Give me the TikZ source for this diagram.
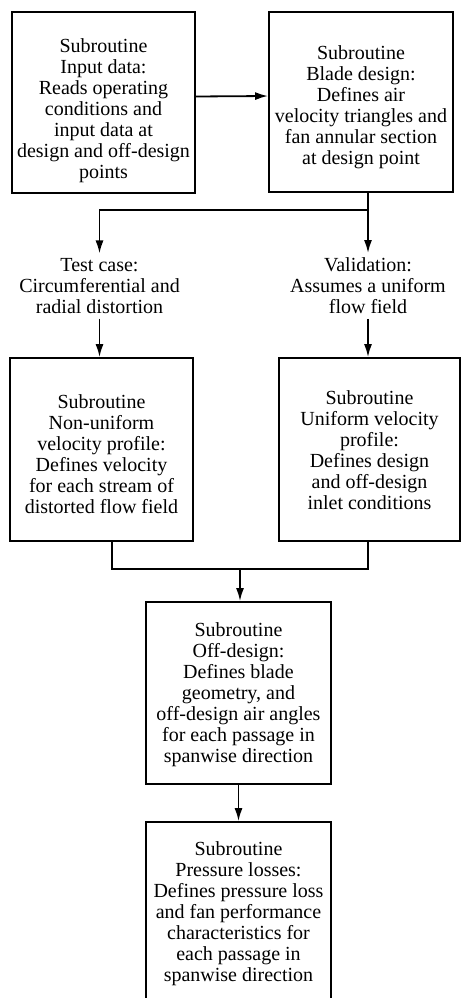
\documentclass[tikz,border=0pt]{standalone}
\usepackage{fontspec}
\setmainfont{Liberation Serif}
\usetikzlibrary{arrows.meta}
\newcommand{\toppad}[1]{\rule{0pt}{#1}}
\begin{document}
\begin{tikzpicture}[x=1pt,y=-1pt,line width=1.8pt,
            font=\fontsize{20}{21}\selectfont,
            subbox/.style={draw,rectangle,align=center,inner sep=0pt},
            casenote/.style={align=center,inner sep=4pt},
            flow/.style={-{Latex[length=13pt,width=8pt]}}]
            \useasboundingbox (0,0) rectangle (461,998);

            \node [subbox,minimum width=183pt,minimum height=181pt] (input) at (103.5,102.5)
                {\toppad{31pt}Subroutine\\Input data:\\Reads operating\\conditions and\\input data at\\design and off-design\\points};
            \node [subbox,minimum width=184pt,minimum height=180pt] (blade) at (361,102)
                {\toppad{24pt}Subroutine\\Blade design:\\Defines air\\velocity triangles and\\fan annular section\\at design point};

            \node [casenote] (left0) at (99.5,286)
                {Test case:\\Circumferential and\\radial distortion};
            \node [casenote] (right0) at (368,286)
                {Validation:\\Assumes a uniform\\flow field};

            \node [subbox,minimum width=183pt,minimum height=183pt] (left1) at (101.5,449.5)
                {\toppad{24pt}Subroutine\\Non-uniform\\velocity profile:\\Defines velocity\\for each stream of\\distorted flow field};
            \node [subbox,minimum width=181pt,minimum height=183pt] (right1) at (369.5,449.5)
                {\toppad{16pt}Subroutine\\Uniform velocity\\profile:\\Defines design\\and off-design\\inlet conditions};

            \node [subbox,minimum width=185pt,minimum height=182pt] (offdesign) at (238.5,693)
                {\toppad{18pt}Subroutine\\Off-design:\\Defines blade\\geometry, and\\off-design air angles\\for each passage in\\spanwise direction};
            \node [subbox,minimum width=185pt,minimum height=182pt] (losses) at (238.5,913)
                {\toppad{15pt}Subroutine\\Pressure losses:\\Defines pressure loss\\and fan performance\\characteristics for\\each passage in\\spanwise direction};

            \coordinate (split) at ([xshift=7pt,yshift=-17pt]blade.south);
            \coordinate (merge) at (240,569);

            \draw [flow] ([yshift=6pt]input.east) -- ([yshift=6pt]blade.west);
            \draw ([xshift=7pt]blade.south) -- (split);
            \draw [flow] (split) -| (left0.north);
            \draw [flow] (split) -- (right0.north);
            \draw [flow] (left0.south) -- (left0.south |- left1.north);
            \draw [flow] (right0.south) -- (right0.south |- right1.north);
            \draw ([xshift=10.5pt]left1.south) |- (merge);
            \draw ([xshift=-1.5pt]right1.south) |- (merge);
            \draw [flow] (merge) -- (merge |- offdesign.north);
            \draw [flow] (offdesign.south) -- (offdesign.south |- losses.north);
        \end{tikzpicture}
\end{document}
